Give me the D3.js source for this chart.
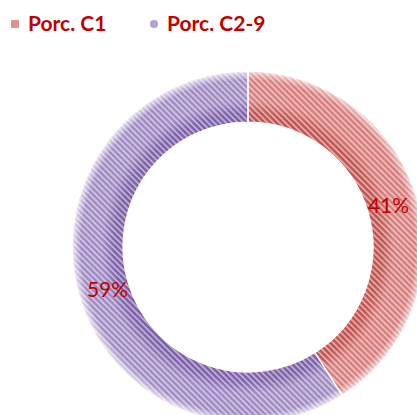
<!DOCTYPE html>
<html>
<head>
<meta charset="utf-8">
<script src="https://cdn.jsdelivr.net/npm/d3@7"></script>
<style>
  body { margin: 0; background: #fff; }
  svg { display: block; font-family: Lato, "Open Sans", sans-serif; }
</style>
</head>
<body>
<svg id="chart" width="417" height="415"></svg>
<script>
// donut: share of C1 vs C2-9
const categories = ["Porc. C1", "Porc. C2-9"];
const values = [41, 59];
const labels = ["41%", "59%"];

const COLORS = {
  "Porc. C1":   { dark: "#c0504d", mid: "#d67c7a", light: "#e9b7b6" },
  "Porc. C2-9": { dark: "#7b5ea8", mid: "#9f89c2", light: "#d3c8e4" },
};
const TEXT_RED = "#c00000";

const cx = 248, cy = 247;
const rOuter = 176, rInner = 125;

const svg = d3.select("#chart");
const defs = svg.append("defs");

// radial shading per slice (centred on donut, in the group's coords)
categories.forEach((c, i) => {
  const col = COLORS[c];
  const grad = defs.append("radialGradient")
    .attr("id", `grad${i}`)
    .attr("gradientUnits", "userSpaceOnUse")
    .attr("cx", 0).attr("cy", 0).attr("r", rOuter);
  [[0, col.dark], [rInner / rOuter, col.dark], [0.76, col.dark], [0.83, col.mid],
   [0.95, col.mid], [0.985, col.light], [1, "#f8eeee"]]
    .forEach(([o, s]) => grad.append("stop").attr("offset", o).attr("stop-color", s));
});

// diagonal white hatch laid over the shading
const hatch = defs.append("pattern")
  .attr("id", "hatch")
  .attr("patternUnits", "userSpaceOnUse")
  .attr("width", 4.2).attr("height", 4.2)
  .attr("patternTransform", "rotate(-45)");
hatch.append("rect").attr("width", 1.9).attr("height", 4.2)
  .attr("fill", "#ffffff").attr("fill-opacity", 0.5);

const pie = d3.pie().sort(null).value(d => d.value);
const arcs = pie(categories.map((c, i) => ({ cat: c, value: values[i], label: labels[i] })));
const arc = d3.arc().innerRadius(rInner).outerRadius(rOuter);

const g = svg.append("g").attr("transform", `translate(${cx},${cy})`);

g.selectAll("path.base")
  .data(arcs).enter().append("path")
  .attr("class", "base")
  .attr("d", arc)
  .attr("fill", (d, i) => `url(#grad${i})`);

g.selectAll("path.hatch")
  .data(arcs).enter().append("path")
  .attr("class", "hatch")
  .attr("d", arc)
  .attr("fill", "url(#hatch)")
  .attr("stroke", "#ffffff").attr("stroke-width", 1.2);

g.selectAll("text.pct")
  .data(arcs).enter().append("text")
  .attr("class", "pct")
  .attr("x", d => arc.centroid(d)[0] + (d.index === 0 ? -4 : 4))
  .attr("y", d => arc.centroid(d)[1] + 3)
  .attr("text-anchor", "middle")
  .attr("dominant-baseline", "middle")
  .attr("fill", TEXT_RED)
  .attr("font-size", 21)
  .text(d => d.data.label);

// legend
const legendX = [11, 150];
const leg = svg.append("g").attr("class", "legend");
categories.forEach((c, i) => {
  const lg = leg.append("g").attr("transform", `translate(${legendX[i]},20)`);
  lg.append("rect")
    .attr("width", 8).attr("height", 8)
    .attr("rx", i === 1 ? 4 : 1)
    .attr("fill", COLORS[c].light);
  lg.append("rect")
    .attr("width", 8).attr("height", 8)
    .attr("rx", i === 1 ? 4 : 1)
    .attr("fill", "url(#hatch)")
    .attr("style", `fill:${COLORS[c].mid}`)
    .attr("fill-opacity", 0.6);
  lg.append("text")
    .attr("x", 17).attr("y", 11)
    .attr("fill", TEXT_RED)
    .attr("font-size", 21)
    .attr("font-weight", "bold")
    .text(c);
});
</script>
</body>
</html>
